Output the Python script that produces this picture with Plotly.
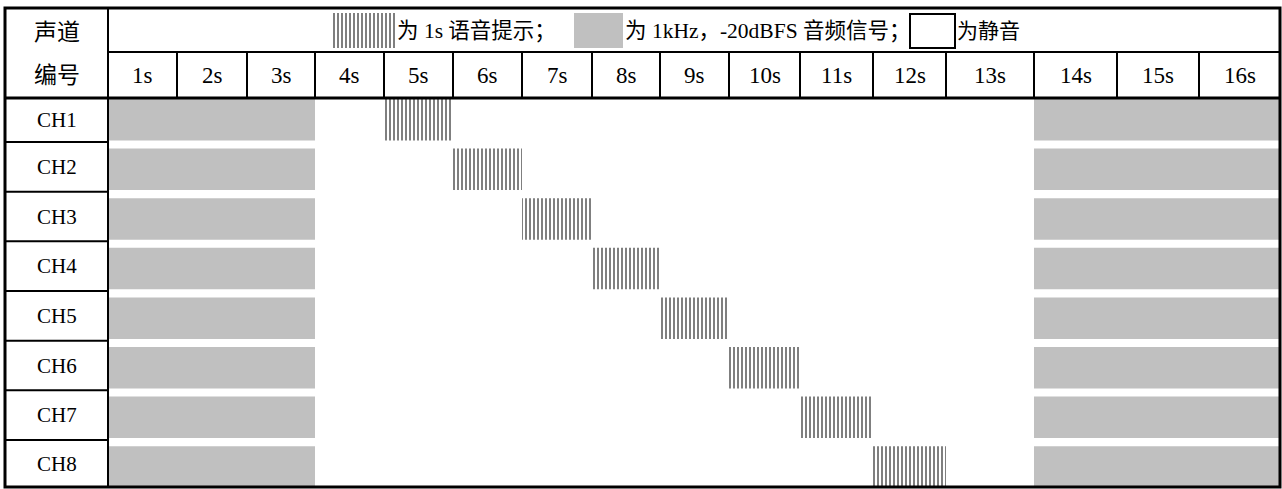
import plotly.graph_objects as go

# ---------------- data ----------------
channels = ["CH1", "CH2", "CH3", "CH4", "CH5", "CH6", "CH7", "CH8"]
seconds = ["1s", "2s", "3s", "4s", "5s", "6s", "7s", "8s",
           "9s", "10s", "11s", "12s", "13s", "14s", "15s", "16s"]
tone_seconds = [1, 2, 3, 14, 15, 16]          # 1kHz -20dBFS tone on every channel
prompt_second = [5, 6, 7, 8, 9, 10, 11, 12]   # 1 s voice prompt, one per channel
header_left = ["声道", "编号"]
legend_texts = ["为 1s 语音提示；", "为 1kHz，-20dBFS 音频信号；", "为静音"]

# ---------------- layout (pixel grid) ----------------
W, H = 1282, 489
col_edges = [5, 108, 177, 247, 315, 384, 453, 522, 592, 660, 729, 800,
             873, 946, 1034, 1117, 1199, 1280]
top, mid, head_bot, bottom = 8, 52, 98, 487
row_lines = [98, 142, 191.7, 241.3, 291, 340.7, 390.3, 440, 487]
block_top0, block_pitch, block_h = 99, 49.6, 41.5
GRAY = "#c0c0c0"
FONT = "Liberation Serif, 'Noto Sans CJK SC', serif"

fig = go.Figure()

def runs(vals):
    vals = sorted(vals)
    out, start, prev = [], vals[0], vals[0]
    for v in vals[1:]:
        if v == prev + 1:
            prev = v
        else:
            out.append((start, prev)); start = prev = v
    out.append((start, prev))
    return out

# gray tone blocks
gx, gb, gy = [], [], []
for i, ch in enumerate(channels):
    yc = block_top0 + i * block_pitch + block_h / 2
    for a, b in runs(tone_seconds):
        gb.append(col_edges[a]); gx.append(col_edges[b + 1] - col_edges[a]); gy.append(yc)
fig.add_trace(go.Bar(orientation="h", x=gx, base=gb, y=gy, width=block_h,
                     marker=dict(color=GRAY, line=dict(width=0)), hoverinfo="skip"))

# hatched voice prompt blocks
hx, hb, hy = [], [], []
for i, s in enumerate(prompt_second):
    yc = block_top0 + i * block_pitch + block_h / 2
    hb.append(col_edges[s]); hx.append(col_edges[s + 1] - col_edges[s]); hy.append(yc)
pattern = dict(shape="|", fgcolor="black", bgcolor="white", size=4, solidity=0.5)
fig.add_trace(go.Bar(orientation="h", x=hx, base=hb, y=hy, width=block_h,
                     marker=dict(color="white", line=dict(width=0), pattern=pattern),
                     hoverinfo="skip"))

# legend samples
leg_y0, leg_y1 = 13, 48
fig.add_trace(go.Bar(orientation="h", x=[395 - 333], base=[333], y=[(leg_y0 + leg_y1) / 2],
                     width=leg_y1 - leg_y0,
                     marker=dict(color="white", line=dict(width=0), pattern=pattern),
                     hoverinfo="skip"))
fig.add_trace(go.Bar(orientation="h", x=[623 - 574], base=[574], y=[(leg_y0 + leg_y1) / 2],
                     width=leg_y1 - leg_y0,
                     marker=dict(color=GRAY, line=dict(width=0)), hoverinfo="skip"))

shapes = []
def line(x0, y0, x1, y1, w=1.5):
    shapes.append(dict(type="line", x0=x0, y0=y0, x1=x1, y1=y1, xref="x", yref="y",
                       line=dict(color="black", width=w)))

# empty (silence) legend box
shapes.append(dict(type="rect", x0=910, y0=14, x1=955, y1=48, xref="x", yref="y",
                   line=dict(color="black", width=2), fillcolor="white"))

# table grid
line(col_edges[1], top, col_edges[1], bottom, 2)
line(col_edges[1], mid, col_edges[-1], mid, 2)
for xe in col_edges[2:-1]:
    line(xe, mid, xe, head_bot, 2)
line(col_edges[0], head_bot, col_edges[-1], head_bot, 3)
for yl in row_lines[1:-1]:
    line(col_edges[0], yl, col_edges[1], yl, 2)
shapes.append(dict(type="rect", x0=col_edges[0], y0=top, x1=col_edges[-1], y1=bottom,
                   xref="x", yref="y", line=dict(color="black", width=3)))

ann = []
def txt(x, y, t, size, anchor="center"):
    ann.append(dict(x=x, y=y, text=t, xref="x", yref="y", showarrow=False,
                    xanchor=anchor, yanchor="middle",
                    font=dict(family=FONT, size=size, color="black")))

txt((col_edges[0] + col_edges[1]) / 2, (top + mid) / 2 + 2, header_left[0], 23)
txt((col_edges[0] + col_edges[1]) / 2, (mid + head_bot) / 2, header_left[1], 23)
for k, s in enumerate(seconds):
    txt((col_edges[k + 1] + col_edges[k + 2]) / 2, (mid + head_bot) / 2, s, 23)
for i, ch in enumerate(channels):
    txt((col_edges[0] + col_edges[1]) / 2, (row_lines[i] + row_lines[i + 1]) / 2, ch, 21)
txt(395, 31, legend_texts[0], 21.5, "left")
txt(623, 31, legend_texts[1], 21.5, "left")
txt(955, 31, legend_texts[2], 21, "left")

fig.update_layout(
    width=W, height=H, margin=dict(l=0, r=0, t=0, b=0),
    paper_bgcolor="white", plot_bgcolor="white", showlegend=False,
    barmode="overlay", shapes=shapes, annotations=ann,
    xaxis=dict(range=[0, W], visible=False, fixedrange=True),
    yaxis=dict(range=[H, 0], visible=False, fixedrange=True),
)
fig.write_html("out.html", config={"displayModeBar": False},
               post_script="document.body.style.margin='0';document.body.style.overflow='hidden';")
